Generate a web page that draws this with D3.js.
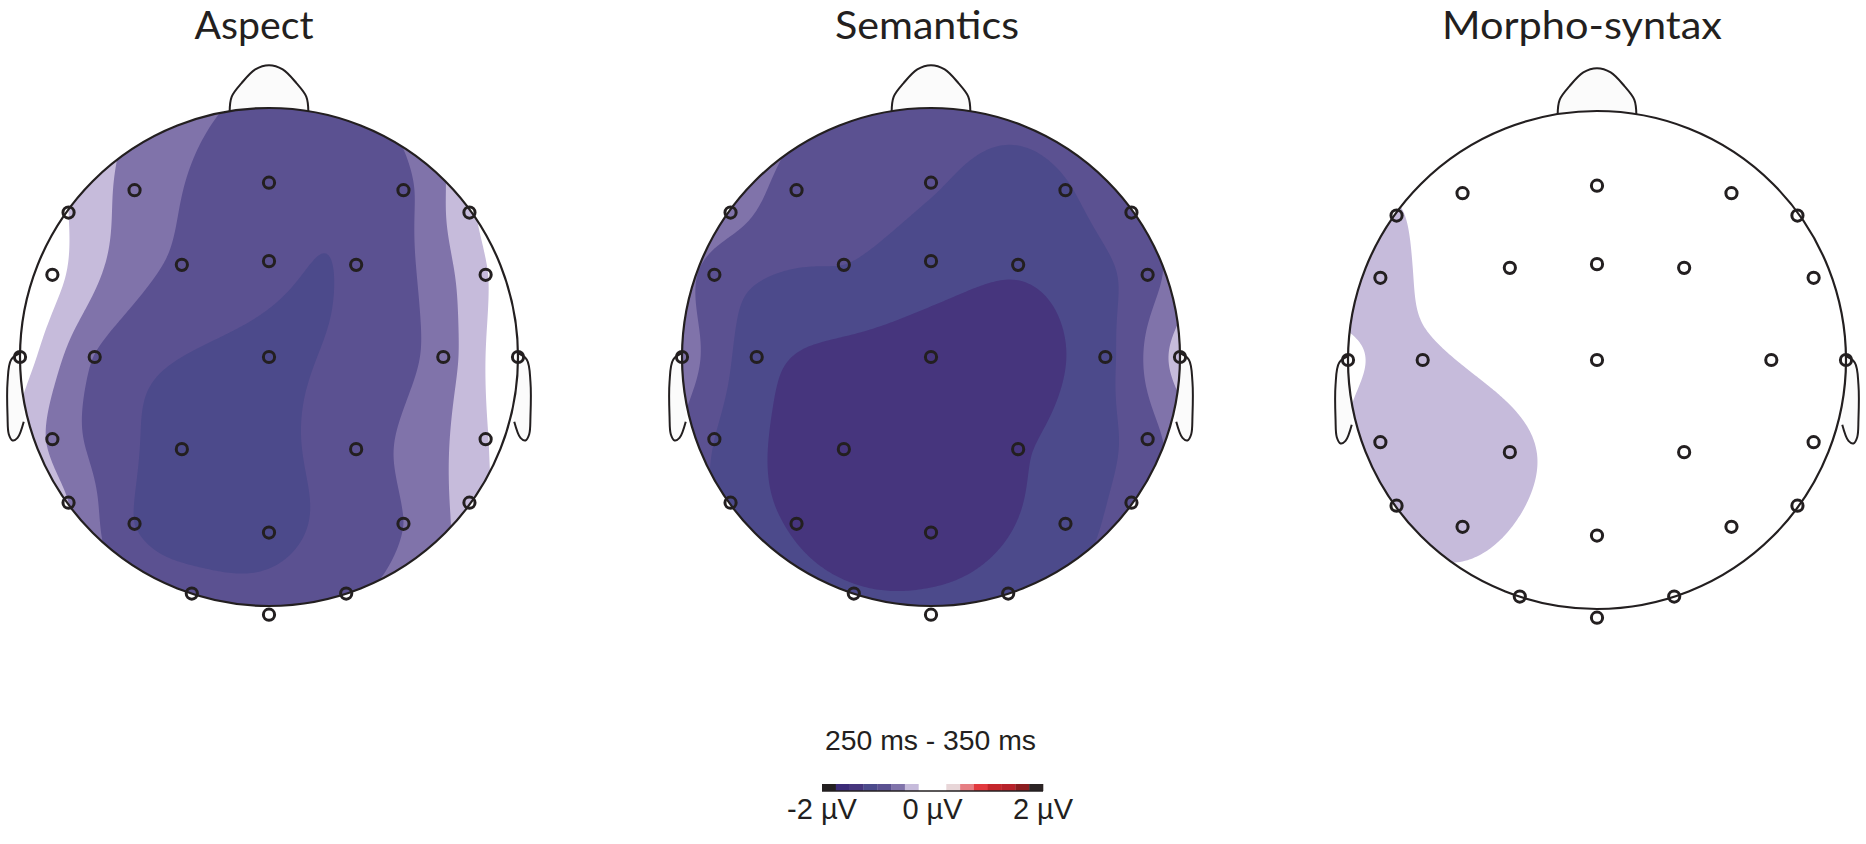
<!DOCTYPE html>
<html><head><meta charset="utf-8">
<script src="https://cdn.jsdelivr.net/npm/d3@7"></script>
<style>body{margin:0;background:#fff}</style>
</head><body>
<svg id="chart" width="1866" height="844"></svg>
<script>
// ---------------- DATA ----------------
const conditions = ["Aspect", "Semantics", "Morpho-syntax"];
const electrodeNames = ["F3","Fz","F4","F7","F8","FT7","FC3","FCz","FC4","FT8","T7","C3","Cz","C4","T8",
  "TP7","CP3","CP4","TP8","P7","P3","Pz","P4","P8","O1","Oz","O2"];
// electrode layout (normalised head units, x right, y down)
const electrodeX = [-0.54,0,0.54,-0.805,0.805,-0.87,-0.35,0,0.35,0.87,-1.0,-0.70,0,0.70,1.0,
  -0.87,-0.35,0.35,0.87,-0.805,-0.54,0,0.54,0.805,-0.31,0,0.31];
const electrodeY = [-0.67,-0.70,-0.67,-0.58,-0.58,-0.33,-0.37,-0.385,-0.37,-0.33,0,0,0,0,0,
  0.33,0.37,0.37,0.33,0.585,0.67,0.705,0.67,0.585,0.95,1.035,0.95];
// mean amplitudes (µV) per electrode, same order as electrodeNames
const aspectValues = [-0.6,-0.9,-0.82,-0.25,-0.3,-0.15,-0.8,-0.96,-0.975,-0.27,-0.1,-0.76,-1.03,-0.62,0.05,
  -0.55,-1.07,-0.85,-0.27,-0.5,-1.0,-1.07,-0.75,-0.38,-0.9,-0.88,-0.8];
const semanticsValues = [-0.85,-0.98,-1.02,-0.65,-0.82,-0.85,-1.0,-1.12,-1.22,-0.85,-0.6,-1.15,-1.38,-1.08,-0.4,
  -1.0,-1.4,-1.28,-0.85,-1.1,-1.28,-1.42,-1.12,-0.9,-1.22,-1.15,-1.12];
const morphoValues = [-0.05,-0.02,0.0,-0.27,0.0,-0.3,0.0,-0.02,0.0,0.0,-0.23,-0.28,0.0,0.0,0.0,
  -0.3,-0.32,0.0,0.0,-0.26,-0.32,-0.05,0.0,0.0,-0.12,-0.08,-0.03];
const conditionValues = [aspectValues, semanticsValues, morphoValues];

const timeWindow = "250 ms - 350 ms";
const colorbarTicks = [-2, 0, 2];
const colorbarTickLabels = ["-2 µV", "0 µV", "2 µV"];
const levelEdges = [-2,-1.75,-1.5,-1.25,-1,-0.75,-0.5,-0.25,0,0.25,0.5,0.75,1,1.25,1.5,1.75,2];
const levelColors = ["#231f20","#3b2b77","#46357d","#4c4a8b","#5b5191","#8073aa","#c6bbdb","#ffffff",
  "#ffffff","#e8d6d8","#e67e83","#e2393e","#c4262b","#b7222a","#8b1d20","#2b2324"];

// ---------------- LAYOUT ----------------
const headCX = [269, 931, 1597];
const headCY = [357, 357, 360];
const R = 249;
const titleX = [254, 927, 1582];
const titleWidth = [119, 184, 280];
const ink = "#231f20";

const svg = d3.select("#chart");
const colorOf = d3.scaleThreshold().domain(levelEdges.slice(1, -1)).range(levelColors);

// biharmonic spline interpolation (as in topographic map plotting)
function green(d) { return d <= 0 ? 0 : d * d * (Math.log(d) - 1); }
function solve(A, b) {
  const n = b.length; const M = A.map((row, i) => row.concat([b[i]]));
  for (let c = 0; c < n; c++) {
    let p = c; for (let r = c + 1; r < n; r++) if (Math.abs(M[r][c]) > Math.abs(M[p][c])) p = r;
    [M[c], M[p]] = [M[p], M[c]];
    for (let r = c + 1; r < n; r++) { const f = M[r][c] / M[c][c]; for (let k = c; k <= n; k++) M[r][k] -= f * M[c][k]; }
  }
  const x = new Array(n).fill(0);
  for (let r = n - 1; r >= 0; r--) { let s = M[r][n]; for (let k = r + 1; k < n; k++) s -= M[r][k] * x[k]; x[r] = s / M[r][r]; }
  return x;
}
const nE = electrodeX.length;
const G = d3.range(nE).map(i => d3.range(nE).map(j => green(Math.hypot(electrodeX[i]-electrodeX[j], electrodeY[i]-electrodeY[j]))));

const u0 = -1.08, step = 0.01, N = 217;
const defs = svg.append("defs");

conditions.forEach((name, h) => {
  const cx = headCX[h], cy = headCY[h];
  const vals = conditionValues[h];
  const w = solve(G, vals);
  const grid = new Float64Array(N * N);
  for (let j = 0; j < N; j++) for (let i = 0; i < N; i++) {
    const x = u0 + i * step, y = u0 + j * step; let s = 0;
    for (let k = 0; k < nE; k++) s += w[k] * green(Math.hypot(x - electrodeX[k], y - electrodeY[k]));
    grid[j * N + i] = s;
  }
  const neg = grid.map(v => -v);
  const proj = d3.geoIdentity().scale(R * step).translate([cx + R * u0 - 0.5 * R * step, cy + R * u0 - 0.5 * R * step]);
  const path = d3.geoPath(proj);

  const g = svg.append("g");
  const xs = d3.scaleLinear().domain([-1, 1]).range([cx - R, cx + R]);
  const ys = d3.scaleLinear().domain([-1, 1]).range([cy - R, cy + R]);
  const line = d3.line().x(d => xs(d[0])).y(d => ys(d[1])).curve(d3.curveCatmullRom);
  const nose = [[-0.158,-0.985],[-0.15,-1.045],[-0.11,-1.1],[-0.055,-1.155],[0,-1.172],[0.055,-1.155],[0.11,-1.1],[0.15,-1.045],[0.158,-0.985]];
  const ear = [[-0.99,-0.02],[-1.035,0.01],[-1.05,0.1],[-1.05,0.24],[-1.045,0.31],[-1.03,0.335],[-1.01,0.325],[-0.985,0.26]];
  g.append("path").attr("d", line(nose)).attr("fill", "#fbfbfb").attr("stroke", ink).attr("stroke-width", 2);
  [1, -1].forEach(sx => g.append("path").attr("d", line(ear.map(p => [p[0] * sx, p[1]])))
    .attr("fill", "#fbfbfb").attr("stroke", ink).attr("stroke-width", 2));
  g.append("circle").attr("cx", cx).attr("cy", cy).attr("r", R).attr("fill", "#fff");

  defs.append("clipPath").attr("id", "clip" + h).append("circle").attr("cx", cx).attr("cy", cy).attr("r", R);
  const mg = g.append("g").attr("clip-path", `url(#clip${h})`);
  const negT = levelEdges.filter(t => t < 0 && t > -2).sort((a, b) => b - a);
  d3.contours().size([N, N]).thresholds(negT.map(t => -t))(neg).forEach(c => {
    if (c.coordinates.length) mg.append("path").attr("d", path(c)).attr("fill", colorOf(-c.value - 0.001));
  });
  const posT = levelEdges.filter(t => t > 0 && t < 2);
  d3.contours().size([N, N]).thresholds(posT)(grid).forEach(c => {
    if (c.coordinates.length) mg.append("path").attr("d", path(c)).attr("fill", colorOf(c.value + 0.001));
  });
  g.append("circle").attr("cx", cx).attr("cy", cy).attr("r", R).attr("fill", "none").attr("stroke", ink).attr("stroke-width", 2.2);

  g.selectAll("circle.el").data(d3.range(nE)).join("circle").attr("class", "el")
    .attr("cx", i => xs(electrodeX[i])).attr("cy", i => ys(electrodeY[i])).attr("r", 5.6)
    .attr("fill", "none").attr("stroke", ink).attr("stroke-width", 3);

  svg.append("text").attr("x", titleX[h]).attr("y", 39).attr("text-anchor", "middle")
    .attr("font-family", "Lato, 'Open Sans', sans-serif").attr("font-size", 39)
    .attr("textLength", titleWidth[h]).attr("lengthAdjust", "spacingAndGlyphs")
    .attr("fill", ink).text(name);
});

// ---------------- COLOUR BAR ----------------
const cb = d3.scaleLinear().domain([-2, 2]).range([822, 1043]);
svg.append("g").selectAll("rect").data(levelColors).join("rect")
  .attr("x", (d, i) => cb(levelEdges[i])).attr("width", (d, i) => cb(levelEdges[i + 1]) - cb(levelEdges[i]) + 0.3)
  .attr("y", 784).attr("height", 7).attr("fill", d => d);
svg.append("line").attr("x1", cb(-2)).attr("x2", cb(2)).attr("y1", 791).attr("y2", 791).attr("stroke", ink).attr("stroke-width", 1.5);
svg.append("text").attr("x", 930.5).attr("y", 750).attr("text-anchor", "middle")
  .attr("font-family", "'Liberation Sans', Arial, sans-serif").attr("font-size", 27)
  .attr("textLength", 211).attr("lengthAdjust", "spacingAndGlyphs").attr("fill", ink).text(timeWindow);
svg.append("g").selectAll("text").data(colorbarTicks).join("text")
  .attr("x", d => cb(d)).attr("y", 819).attr("text-anchor", "middle")
  .attr("font-family", "'Liberation Sans', Arial, sans-serif").attr("font-size", 29).attr("fill", ink)
  .text((d, i) => colorbarTickLabels[i]);
</script>
</body></html>
